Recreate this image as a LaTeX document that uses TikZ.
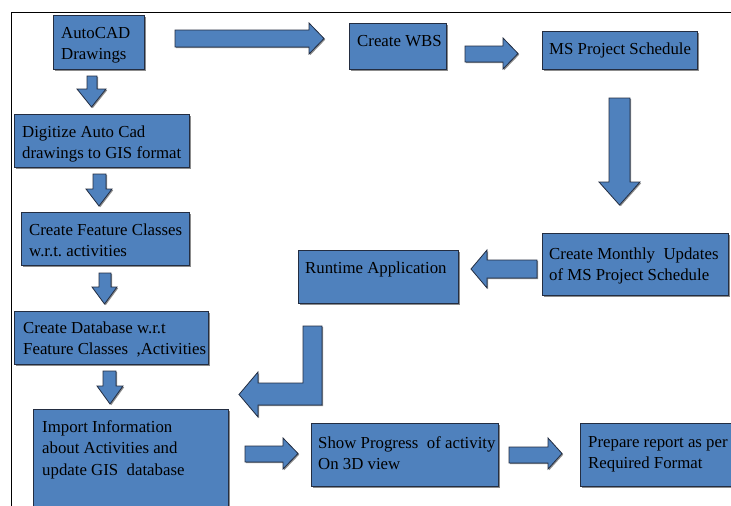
\documentclass[tikz,border=0pt]{standalone}
\usepackage{fontspec}
\setmainfont{Liberation Serif}
\usetikzlibrary{shadows}
\definecolor{boxblue}{RGB}{79,129,189}
\definecolor{edgec}{RGB}{35,45,65}
\frenchspacing
\begin{document}
\begin{tikzpicture}[x=1pt,y=-1pt,
  shad/.style={drop shadow={shadow xshift=1.2pt,shadow yshift=-1.2pt,fill=black,opacity=0.45}},
  box/.style={draw=edgec,line width=0.9pt,fill=boxblue,shad,anchor=north west,inner sep=0pt,rectangle},
  barrow/.style={draw=edgec,line width=0.8pt,fill=boxblue,line join=miter,shad},
  txt/.style={anchor=base west,inner sep=0pt,font=\fontsize{16.8}{21.5}\selectfont},
  frame/.style={draw=black,line width=0.9pt}]
\useasboundingbox (0,0) rectangle (731,506);
\clip (0,0) rectangle (731,506);
\fill[white] (0,0) rectangle (731,506);
% frame
\coordinate (fbl) at (11,506);
\coordinate (ftl) at (11,12);
\coordinate (ftr) at (731,12);
\draw[frame] (fbl) -- (ftl) -- (ftr);
% boxes
\node[box,minimum width=91pt,minimum height=54pt] (acad) at (53,15) {};
\node[box,minimum width=97pt,minimum height=46pt] (wbs) at (349,23) {};
\node[box,minimum width=155pt,minimum height=38pt] (msp) at (542,31) {};
\node[box,minimum width=175pt,minimum height=53pt] (dig) at (14,114) {};
\node[box,minimum width=168pt,minimum height=53pt] (feat) at (21,212) {};
\node[box,minimum width=194pt,minimum height=53pt] (db) at (14,311) {};
\node[box,minimum width=195pt,minimum height=111pt] (imp) at (33,409) {};
\node[box,minimum width=160pt,minimum height=53pt] (run) at (298,250) {};
\node[box,minimum width=186pt,minimum height=62pt] (mon) at (542,233) {};
\node[box,minimum width=187pt,minimum height=63pt] (show) at (311,423) {};
\node[box,minimum width=165pt,minimum height=63pt] (prep) at (580,423) {};
% texts
\node[txt] (acadT) at (61,38) {\parbox[t]{6cm}{AutoCAD\\Drawings}};
\node[txt] (wbsT) at (357,46) {Create WBS};
\node[txt] (mspT) at (549,54) {MS Project Schedule};
\node[txt] (digT) at (22,137) {\parbox[t]{6cm}{Digitize Auto Cad\\drawings to GIS format}};
\node[txt] (featT) at (29,235) {\parbox[t]{6cm}{Create Feature Classes\\w.r.t. activities}};
\node[txt] (dbT) at (23,333) {\parbox[t]{7cm}{Create Database w.r.t\\Feature Classes ~,Activities}};
\node[txt] (impT) at (42,432) {\parbox[t]{7cm}{Import Information\\about Activities and\\update GIS~ database}};
\node[txt] (runT) at (305,273) {Runtime Application};
\node[txt] (monT) at (549,259) {\parbox[t]{7cm}{Create Monthly~ Updates\\of MS Project Schedule}};
\node[txt] (showT) at (318,448) {\parbox[t]{7cm}{Show Progress~ of activity\\On 3D view}};
\node[txt] (prepT) at (588,447) {\parbox[t]{7cm}{Prepare report as per\\Required Format}};
% block arrows
\draw[barrow] (175,30) -- (309,30) -- (309,23) -- (324,38.5) -- (309,54) -- (309,47) -- (175,47) -- cycle;
\draw[barrow] (465,46) -- (503,46) -- (503,38) -- (518,53.5) -- (503,69) -- (503,62) -- (465,62) -- cycle;
\draw[barrow] (609,98) -- (630,98) -- (630,182) -- (640,182) -- (619.5,205) -- (599,182) -- (609,182) -- cycle;
\draw[barrow] (537,260) -- (487,260) -- (487,250) -- (471,269) -- (487,288) -- (487,278) -- (537,278) -- cycle;
\draw[barrow] (87,76) -- (97,76) -- (97,89) -- (106,89) -- (91.5,107) -- (77,89) -- (87,89) -- cycle;
\draw[barrow] (93,174) -- (106,174) -- (106,189) -- (112,189) -- (99,206) -- (86,189) -- (93,189) -- cycle;
\draw[barrow] (99,273) -- (111,273) -- (111,287) -- (117,287) -- (104.5,304) -- (92,287) -- (99,287) -- cycle;
\draw[barrow] (103,371) -- (116,371) -- (116,386) -- (123,386) -- (110,404) -- (97,386) -- (103,386) -- cycle;
\draw[barrow] (303,326) -- (322,326) -- (322,405) -- (258,405) -- (258,417) -- (239,394.5) -- (258,372) -- (258,383) -- (303,383) -- cycle;
\draw[barrow] (245,446) -- (283,446) -- (283,438) -- (298,453.5) -- (283,469) -- (283,462) -- (245,462) -- cycle;
\draw[barrow] (509,447) -- (548,447) -- (548,438) -- (562,453.5) -- (548,469) -- (548,463) -- (509,463) -- cycle;
\end{tikzpicture}
\end{document}
